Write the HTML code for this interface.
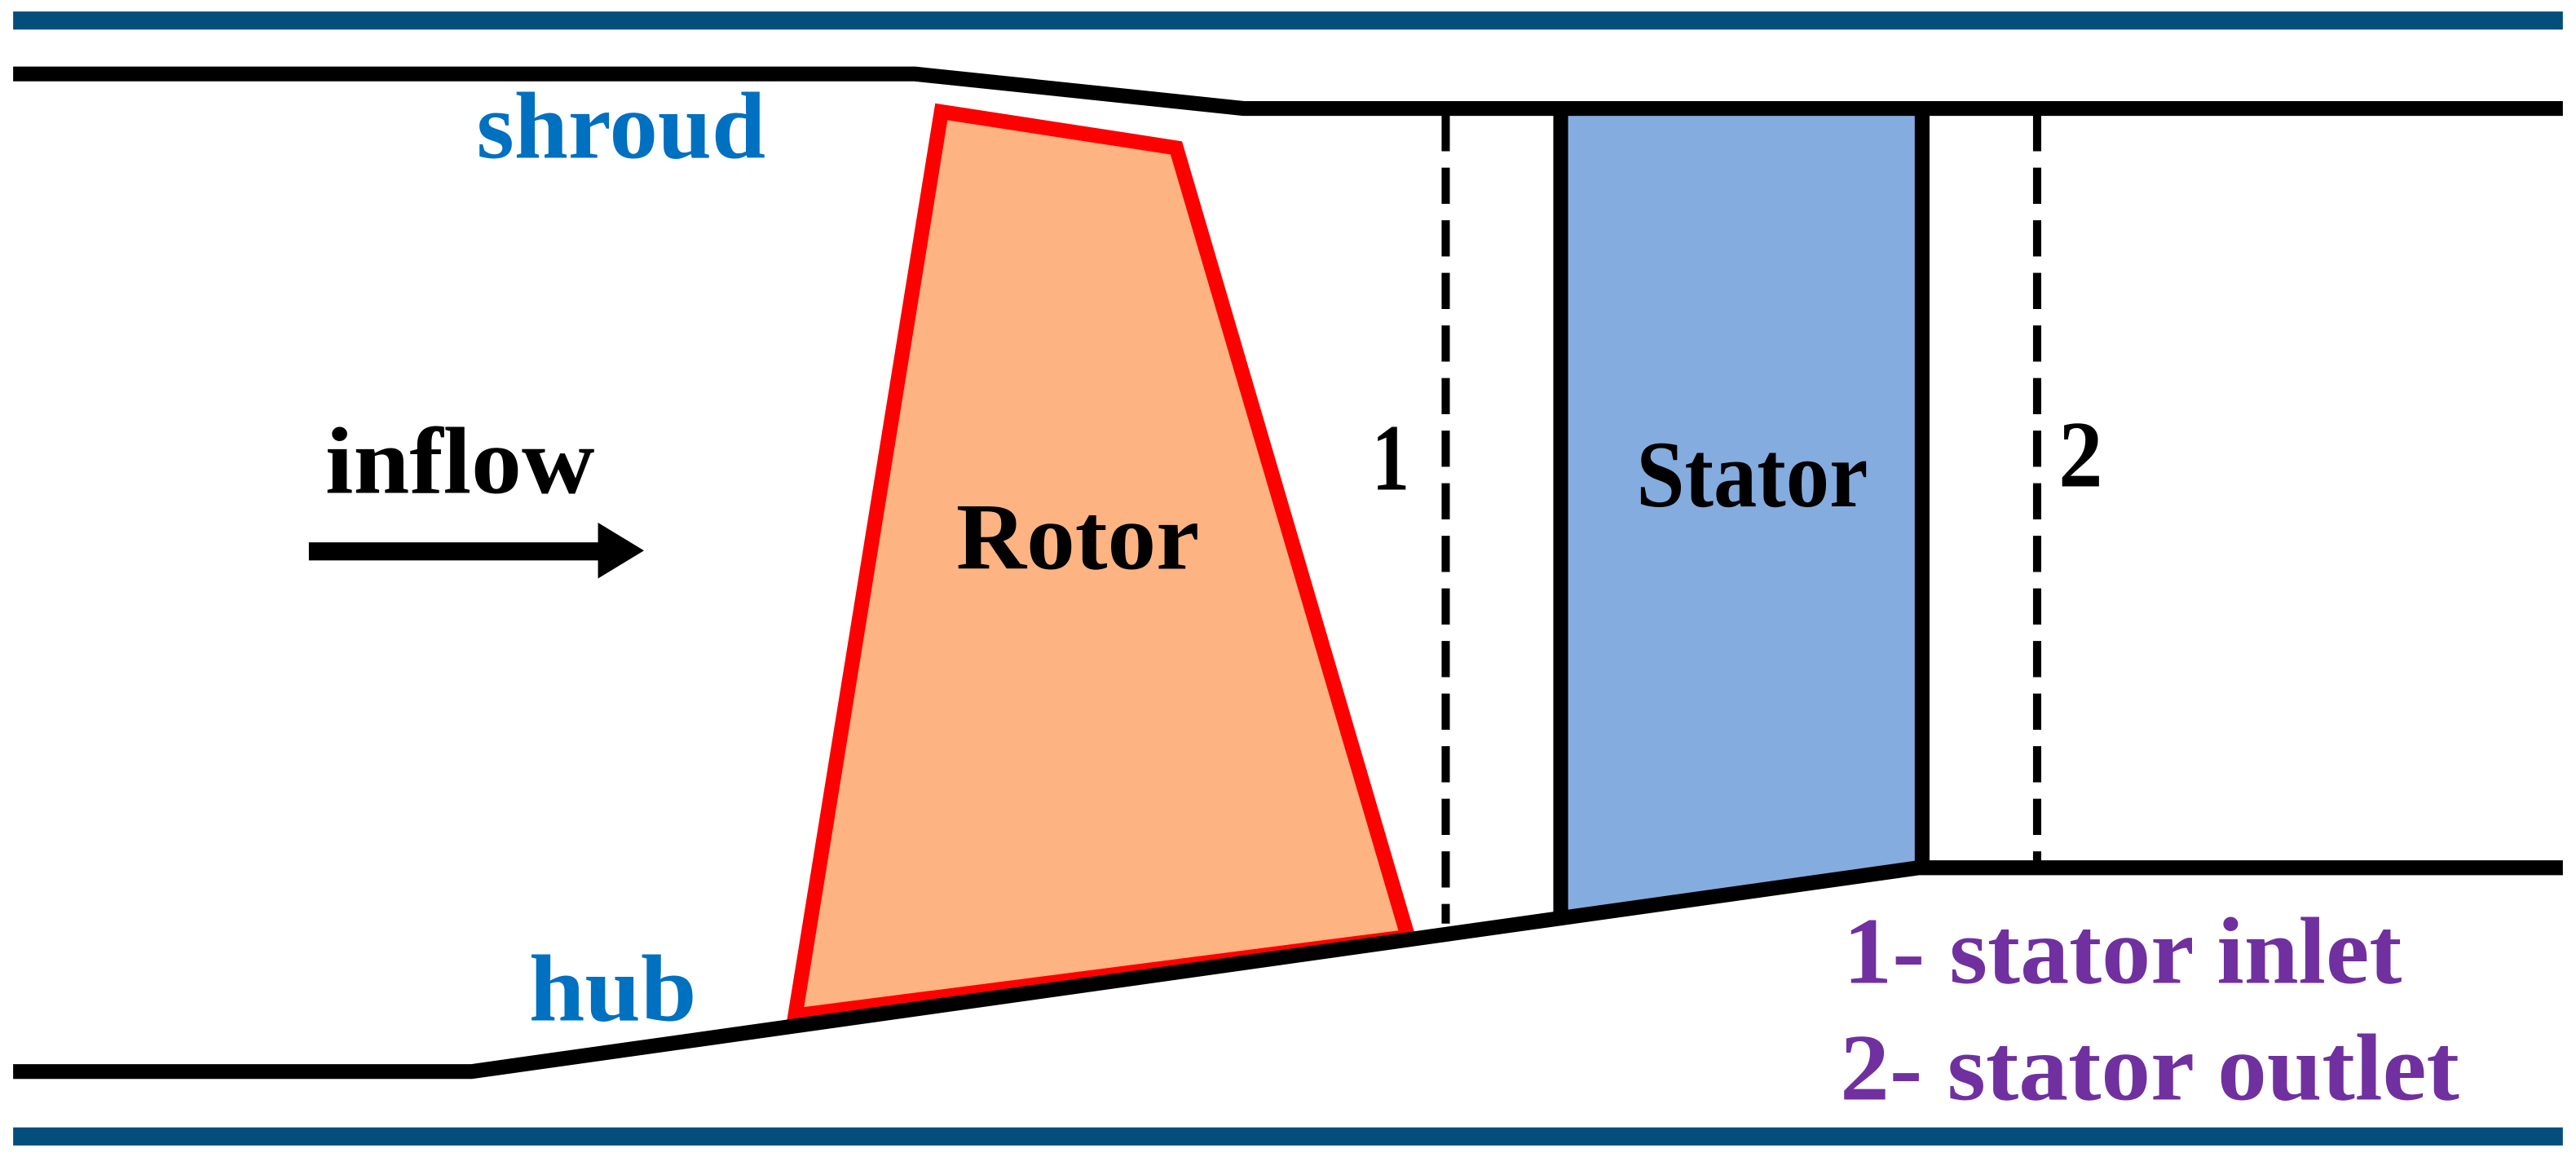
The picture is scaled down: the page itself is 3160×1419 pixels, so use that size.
<!DOCTYPE html>
<html><head><meta charset="utf-8"><style>html,body{margin:0;padding:0;background:#fff}svg{display:block}</style></head>
<body>
<svg width="3160" height="1419" viewBox="0 0 1568 704" preserveAspectRatio="none" xmlns="http://www.w3.org/2000/svg">
<rect width="1568" height="704" fill="#fff"/>
<rect x="8" y="7" width="1552" height="11" fill="#044e7c"/>
<rect x="8" y="686" width="1552" height="11" fill="#044e7c"/>
<polygon points="950,66 1170,66 1170,528 950,556" fill="#85acde"/>
<line x1="950" y1="66" x2="950" y2="556" stroke="#000" stroke-width="9"/>
<line x1="1170" y1="66" x2="1170" y2="528" stroke="#000" stroke-width="9"/>
<polygon points="573,68 716,90 857,570 484,618" fill="#fdb382" stroke="#f00" stroke-width="9" stroke-linejoin="miter"/>
<polyline points="8,45 557,45 757,66 1560,66" fill="none" stroke="#000" stroke-width="9"/>
<polyline points="8,652 287,652 1168,528 1560,528" fill="none" stroke="#000" stroke-width="9"/>
<line x1="880" y1="70" x2="880" y2="562" stroke="#000" stroke-width="5" stroke-dasharray="22,10"/>
<line x1="1240" y1="70" x2="1240" y2="524" stroke="#000" stroke-width="5" stroke-dasharray="22,10"/>
<rect x="188" y="330" width="180" height="11" fill="#000"/>
<polygon points="364,318 392,335 364,352" fill="#000"/>
<g style="font-family:'Liberation Serif',serif" font-weight="bold" font-size="58">
<text x="290" y="96" fill="#0070c0" textLength="176" lengthAdjust="spacingAndGlyphs">shroud</text>
<text x="322" y="621" fill="#0070c0" textLength="102" lengthAdjust="spacingAndGlyphs">hub</text>
<text x="198" y="300" fill="#000" textLength="164" lengthAdjust="spacingAndGlyphs">inflow</text>
<text x="582" y="346" fill="#000" textLength="148" lengthAdjust="spacingAndGlyphs">Rotor</text>
<text x="996" y="308" fill="#000" textLength="141" lengthAdjust="spacingAndGlyphs">Stator</text>
<text x="835" y="298" fill="#000" textLength="23" lengthAdjust="spacingAndGlyphs">1</text>
<text x="1253" y="296" fill="#000" textLength="27" lengthAdjust="spacingAndGlyphs">2</text>
<text x="1122" y="598" fill="#7030a0" textLength="340" lengthAdjust="spacingAndGlyphs">1- stator inlet</text>
<text x="1120" y="669" fill="#7030a0" textLength="377" lengthAdjust="spacingAndGlyphs">2- stator outlet</text>
</g>
</svg>
</body></html>
